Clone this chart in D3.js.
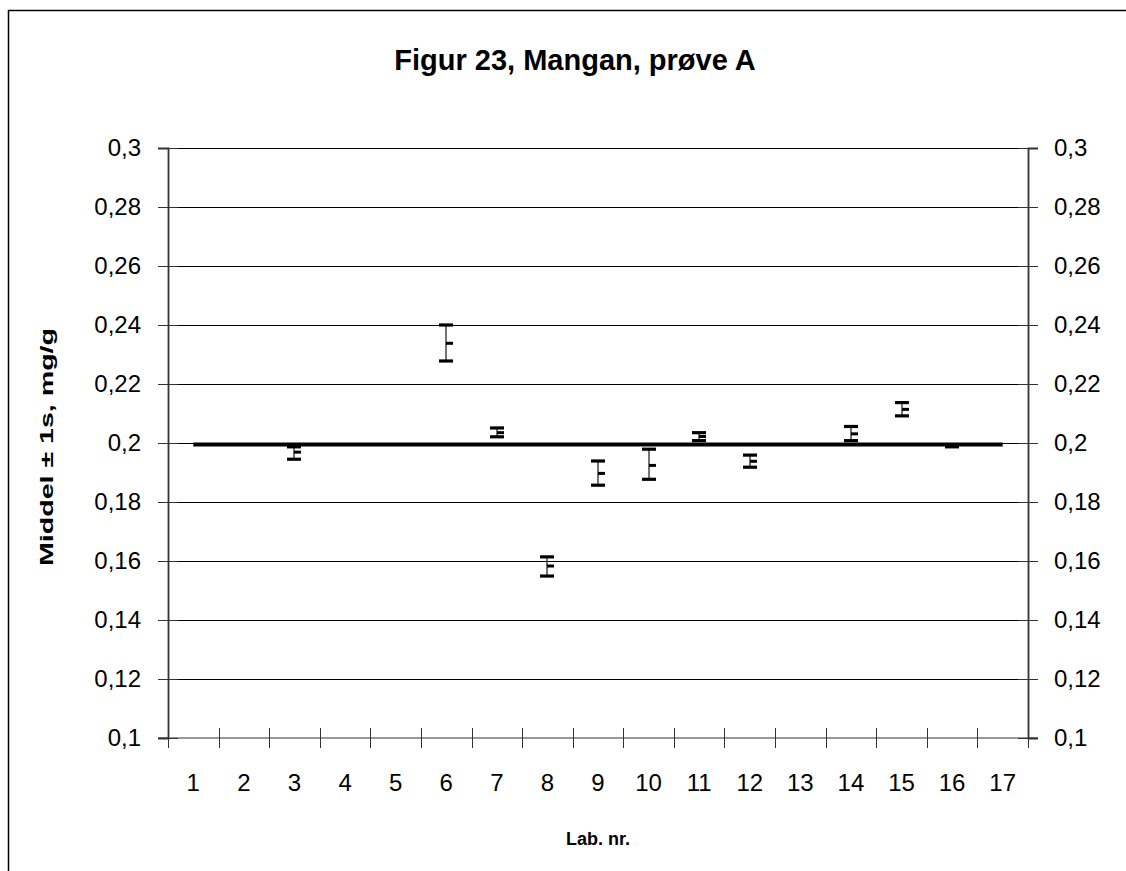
<!DOCTYPE html>
<html><head><meta charset="utf-8">
<script src="https://cdn.jsdelivr.net/npm/d3@7"></script>
<style>body{margin:0;background:#fff}svg{display:block;font-family:Arial,"Liberation Sans",sans-serif}</style>
</head><body><svg id="c" width="1126" height="871"></svg>
<script>
const labs = ["1","2","3","4","5","6","7","8","9","10","11","12","13","14","15","16","17"];
const dataLabs = ["3","6","7","8","9","10","11","12","14","15","16"];
const means = [0.1969,0.2338,0.2035,0.1583,0.1897,0.1924,0.2022,0.1938,0.2031,0.2114,0.1989];
const highs = [0.1987,0.2400,0.2051,0.1614,0.1939,0.1979,0.2035,0.1959,0.2056,0.2137,0.1991];
const lows  = [0.1945,0.2278,0.2021,0.1549,0.1857,0.1877,0.2008,0.1918,0.2008,0.2092,0.1987];
const refValue = 0.1995;
const yTicks = [0.1,0.12,0.14,0.16,0.18,0.2,0.22,0.24,0.26,0.28,0.3];
const title = "Figur 23, Mangan, prøve A";
const yTitle = "Middel ± 1s, mg/g";
const xTitle = "Lab. nr.";

const svg = d3.select("#c");
const L=168,R=1028,T=148,B=738;
const x = d3.scaleBand().domain(labs).range([L,R]);
const y = d3.scaleLinear().domain([0.1,0.3]).range([B,T]);
const fmt = d => String(+d.toFixed(2)).replace(".",",");
const FF = "Arial,'Liberation Sans',sans-serif";

svg.append("rect").attr("x",8.5).attr("y",10.5).attr("width",1300).attr("height",1000)
  .attr("fill","none").attr("stroke","#000").attr("stroke-width",1.5);

svg.append("text").attr("x",575).attr("y",70).attr("text-anchor","middle")
  .attr("font-weight","bold").attr("font-size",29).text(title);

// gridlines
svg.append("g").selectAll("line").data(yTicks.filter(d=>d>0.1)).join("line")
  .attr("x1",L).attr("x2",R).attr("y1",d=>Math.round(y(d))+0.5).attr("y2",d=>Math.round(y(d))+0.5)
  .attr("stroke","#000").attr("stroke-width",1);

// left axis
const gl = svg.append("g").attr("transform",`translate(${L},0)`)
  .call(d3.axisLeft(y).tickValues(yTicks).tickFormat(fmt).tickSize(10).tickPadding(17));
gl.select(".domain").attr("stroke","#333").attr("stroke-width",1.8);
gl.selectAll(".tick line").attr("x1",-10).attr("x2",10).attr("stroke","#333");
gl.selectAll(".tick text").attr("font-size",24).attr("font-family",FF).attr("fill","#000");

// right axis
const gr = svg.append("g").attr("transform",`translate(${R},0)`)
  .call(d3.axisRight(y).tickValues(yTicks).tickFormat(fmt).tickSize(10).tickPadding(16));
gr.select(".domain").attr("stroke","#333").attr("stroke-width",1.8);
gr.selectAll(".tick line").attr("x1",-10).attr("x2",10).attr("stroke","#333");
gr.selectAll(".tick text").attr("font-size",24).attr("font-family",FF).attr("fill","#000");

// x axis
const gx = svg.append("g").attr("transform",`translate(0,${B})`)
  .call(d3.axisBottom(x).tickSize(0).tickPadding(36));
gx.select(".domain").remove();
gx.append("line").attr("x1",L-10).attr("x2",R+10).attr("stroke","#333").attr("stroke-width",1.2);
gx.selectAll(".tick text").attr("font-size",24).attr("font-family",FF).attr("fill","#000");
const bounds = labs.map(d=>x(d)).concat([R]);
gx.selectAll(".xt").data(bounds).join("line").attr("class","xt")
  .attr("x1",d=>Math.round(d)+0.5).attr("x2",d=>Math.round(d)+0.5).attr("y1",-10).attr("y2",10)
  .attr("stroke","#333").attr("stroke-width",1);

// reference line
svg.append("line").attr("x1",x(labs[0])+x.bandwidth()/2).attr("x2",x(labs[labs.length-1])+x.bandwidth()/2)
  .attr("y1",y(refValue)).attr("y2",y(refValue)).attr("stroke","#000").attr("stroke-width",4);

// error bars
const pts = dataLabs.map((l,i)=>({l,m:means[i],h:highs[i],lo:lows[i]}));
const g = svg.append("g");
const cx = d => Math.round(x(d.l)+x.bandwidth()/2);
g.selectAll(".v").data(pts).join("line").attr("class","v")
  .attr("x1",cx).attr("x2",cx).attr("y1",d=>y(d.h)).attr("y2",d=>y(d.lo))
  .attr("stroke","#444").attr("stroke-width",1.5);
g.selectAll(".hc").data(pts).join("line").attr("class","hc")
  .attr("x1",d=>cx(d)-7).attr("x2",d=>cx(d)+7).attr("y1",d=>y(d.h)).attr("y2",d=>y(d.h))
  .attr("stroke","#000").attr("stroke-width",3.2);
g.selectAll(".lc").data(pts).join("line").attr("class","lc")
  .attr("x1",d=>cx(d)-7).attr("x2",d=>cx(d)+7).attr("y1",d=>y(d.lo)).attr("y2",d=>y(d.lo))
  .attr("stroke","#000").attr("stroke-width",3.2);
g.selectAll(".mc").data(pts).join("line").attr("class","mc")
  .attr("x1",d=>cx(d)).attr("x2",d=>cx(d)+7).attr("y1",d=>y(d.m)).attr("y2",d=>y(d.m))
  .attr("stroke","#000").attr("stroke-width",3);

// axis titles
svg.append("text").attr("x",598).attr("y",845).attr("text-anchor","middle")
  .attr("font-weight","bold").attr("font-size",18).text(xTitle);
svg.append("text").attr("transform","translate(53,447) rotate(-90)").attr("text-anchor","middle")
  .attr("font-weight","bold").attr("font-size",18)
  .attr("textLength",238).attr("lengthAdjust","spacingAndGlyphs").text(yTitle);
</script></body></html>
